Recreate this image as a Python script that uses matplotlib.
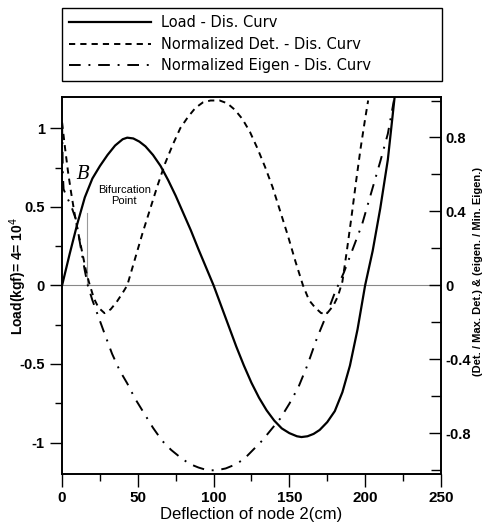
import matplotlib
matplotlib.use("Agg")
import matplotlib.pyplot as plt
from matplotlib.ticker import MultipleLocator

plt.rcParams['font.family'] = ['Liberation Sans', 'DejaVu Sans']

# Load - deflection curve (left axis, kgf x 10^4)
load_x = [0, 5, 10, 15, 20, 25, 30, 35, 40, 43, 47, 51, 55, 60, 65, 70, 75, 80, 85, 90,
          95, 100, 105, 110, 115, 120, 125, 130, 135, 140, 145, 150, 155, 158, 162, 166,
          170, 175, 180, 185, 190, 195, 200, 205, 210, 215, 219.5]
load_y = [0.0, 0.20, 0.39, 0.56, 0.68, 0.76, 0.83, 0.89, 0.93, 0.94, 0.935, 0.915, 0.885,
          0.83, 0.76, 0.67, 0.57, 0.46, 0.35, 0.23, 0.115, 0.0, -0.13, -0.26, -0.39, -0.51,
          -0.62, -0.715, -0.795, -0.86, -0.91, -0.94, -0.96, -0.965, -0.96, -0.945,
          -0.92, -0.87, -0.80, -0.68, -0.51, -0.28, 0.0, 0.22, 0.49, 0.80, 1.2]

# normalized determinant (right axis)
det_x = [0, 2, 4, 6, 8, 10, 12, 14, 16, 18, 21, 24, 28, 32, 36, 40, 43, 48, 53, 58, 63,
         68, 73, 78, 83, 88, 93, 98, 101, 104, 109, 114, 119, 124, 129, 134, 139, 144,
         149, 154, 159, 163, 167, 171, 175, 179, 182, 185, 188, 191, 194, 197, 200, 202]
det_y = [0.88, 0.74, 0.61, 0.50, 0.40, 0.31, 0.23, 0.15, 0.07, 0.01, -0.07, -0.12, -0.15,
         -0.13, -0.09, -0.04, 0.0, 0.14, 0.28, 0.41, 0.54, 0.66, 0.76, 0.85, 0.91, 0.96,
         0.99, 1.0, 1.0, 1.0, 0.985, 0.95, 0.90, 0.83, 0.74, 0.64, 0.53, 0.40, 0.27, 0.13,
         0.0, -0.08, -0.12, -0.15, -0.15, -0.11, -0.06, 0.02, 0.19, 0.37, 0.56, 0.74,
         0.90, 1.0]

# normalized eigenvalue (right axis)
eig_x = [0, 0.5, 1, 3, 6, 9, 12, 15, 17, 20, 24, 28, 33, 38, 43, 48, 54, 60, 66, 72, 78,
         84, 90, 96, 102, 108, 114, 120, 126, 132, 138, 144, 150, 156, 162, 168, 174, 180,
         186, 192, 198, 204, 210, 215, 219]
eig_y = [0.88, 0.60, 0.52, 0.48, 0.43, 0.36, 0.22, 0.08, 0.0, -0.08, -0.17, -0.26, -0.37,
         -0.46, -0.53, -0.61, -0.69, -0.77, -0.84, -0.89, -0.93, -0.965, -0.985, -1.0,
         -1.0, -0.99, -0.97, -0.94, -0.89, -0.84, -0.78, -0.72, -0.64, -0.55, -0.43,
         -0.29, -0.17, -0.04, 0.07, 0.20, 0.33, 0.50, 0.67, 0.82, 1.0]

bif_x = 16.3
bif_top = 0.46

fig = plt.figure(figsize=(4.85, 5.29), dpi=100)
ax = fig.add_axes([0.128, 0.104, 0.781, 0.713])
ax2 = ax.twinx()

ax.axhline(0, color='#888888', lw=0.8, zorder=1)
ax.plot([bif_x, bif_x], [0, bif_top], color='#999999', lw=0.8)

l1, = ax.plot(load_x, load_y, color='black', lw=1.6, label='Load - Dis. Curv')
l2, = ax2.plot(det_x, det_y, color='black', lw=1.4, linestyle=(0, (3.2, 2.6)),
               label='Normalized Det. - Dis. Curv')
l3, = ax2.plot(eig_x, eig_y, color='black', lw=1.4, linestyle=(0, (6, 4, 1, 4)),
               label='Normalized Eigen - Dis. Curv')

ax.set_xlim(0, 250)
ax.set_ylim(-1.2, 1.2)
ax2.set_ylim(-1.02, 1.02)

ax.xaxis.set_major_locator(MultipleLocator(50))
ax.xaxis.set_minor_locator(MultipleLocator(25))
ax.yaxis.set_minor_locator(MultipleLocator(0.25))
ax.set_yticks([-1, -0.5, 0, 0.5, 1])
ax.set_yticklabels(['-1', '-0.5', '0', '0.5', '1'])
ax2.set_yticks([-0.8, -0.4, 0, 0.4, 0.8])
ax2.set_yticklabels(['-0.8', '-0.4', '0', '0.4', '0.8'])
ax2.yaxis.set_minor_locator(MultipleLocator(0.2))

ax.tick_params(axis='both', which='major', direction='out', length=9, width=1,
               labelsize=10.5)
ax.tick_params(axis='x', which='major', labelsize=11)
ax.tick_params(axis='both', which='minor', direction='out', length=5, width=1)
ax.tick_params(axis='x', top=False, which='both')
ax2.tick_params(axis='y', which='major', direction='in', length=9, width=1,
                labelsize=10.5, pad=3)
ax2.tick_params(axis='y', which='minor', direction='in', length=7, width=1)
for lab in ax.get_xticklabels() + ax.get_yticklabels() + ax2.get_yticklabels():
    lab.set_fontweight('bold')

for sp in ax.spines.values():
    sp.set_linewidth(1.2)
for sp in ax2.spines.values():
    sp.set_linewidth(1.2)

ax.set_xlabel('Deflection of node 2(cm)', fontsize=12, labelpad=1)
fig.text(18 / 485, 1 - 276 / 529, 'Load(kgf)= 4= 10$^4$', fontsize=10,
         fontweight='bold', rotation=90, ha='center', va='center')
fig.text(478 / 485, 1 - 272 / 529, '(Det. / Max. Det.) & (eigen. / Min. Eigen.)',
         fontsize=8, fontweight='bold', rotation=90, ha='center', va='center')

ax.text(13.9, 0.71, 'B', fontsize=13, fontstyle='italic', family='DejaVu Serif',
        ha='center', va='center')
ax.text(41, 0.57, 'Bifurcation\nPoint', fontsize=8, ha='center', va='center',
        linespacing=1.1)

leg = fig.legend(handles=[l1, l2, l3], loc='upper left',
                 bbox_to_anchor=(0.128, 0.985, 0.783, 0.0), mode='expand',
                 prop={'family': 'DejaVu Sans', 'size': 10.5},
                 handlelength=5.6, handletextpad=0.7, borderpad=0.5,
                 labelspacing=0.45, fancybox=False, edgecolor='black', framealpha=1,
                 borderaxespad=0)
leg.get_frame().set_linewidth(1.0)

fig.savefig('out.png', dpi=100)
